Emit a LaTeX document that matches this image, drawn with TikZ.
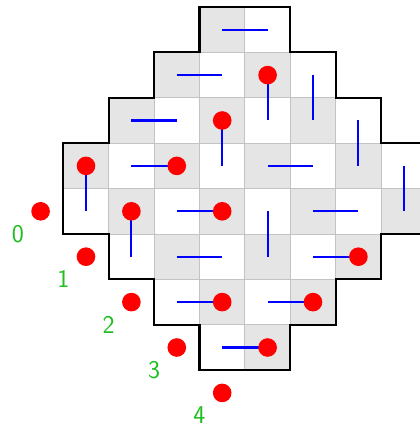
\documentclass[tikz,border=0pt]{standalone}
\definecolor{cellgray}{RGB}{229,229,229}
\definecolor{gridgray}{RGB}{195,195,195}
\definecolor{lblgreen}{RGB}{30,190,30}
\begin{document}
\begin{tikzpicture}[x=1cm,y=1cm,
  gridline/.style={draw=gridgray, line width=0.6pt},
  outline/.style={draw=black, line width=1.3pt, line join=miter},
  domino/.style={draw=blue, line width=1.3pt},
  dot/.style={circle, fill=red, inner sep=0pt, minimum size=0.41cm},
  lbl/.style={text=lblgreen, font=\sffamily\fontsize{16}{16}\selectfont, inner sep=0pt}]
\useasboundingbox (-1.394,0.154) rectangle (7.835,-9.229);
% cells
\foreach \j in {0,...,7}{
  \pgfmathtruncatemacro{\n}{\j<4 ? \j+1 : 8-\j}
  \pgfmathtruncatemacro{\a}{4-\n}
  \pgfmathtruncatemacro{\b}{3+\n}
  \foreach \i in {\a,...,\b}{
    \pgfmathtruncatemacro{\p}{mod(\i+\j,2)}
    \ifnum\p=1 \fill[cellgray] (\i,-\j) rectangle ++(1,-1);\fi
    \draw[gridline] (\i,-\j) rectangle ++(1,-1);
    \coordinate (c\i-\j) at (\i+0.5,-\j-0.5);
  }
}
% outline
\draw[outline] (3,0) -- (5,0) -- (5,-1) -- (6,-1) -- (6,-2) -- (7,-2) -- (7,-3) -- (8,-3)
  -- (8,-5) -- (7,-5) -- (7,-6) -- (6,-6) -- (6,-7) -- (5,-7) -- (5,-8) -- (3,-8)
  -- (3,-7) -- (2,-7) -- (2,-6) -- (1,-6) -- (1,-5) -- (0,-5) -- (0,-3) -- (1,-3)
  -- (1,-2) -- (2,-2) -- (2,-1) -- (3,-1) -- cycle;
% dominoes
\foreach \p/\q in {3-0/4-0, 2-1/3-1, 4-1/4-2, 5-1/5-2, 1-2/2-2, 3-2/3-3, 6-2/6-3,
  0-3/0-4, 1-3/2-3, 4-3/5-3, 7-3/7-4, 1-4/1-5, 2-4/3-4, 4-4/4-5, 5-4/6-4,
  2-5/3-5, 5-5/6-5, 2-6/3-6, 4-6/5-6, 3-7/4-7}
  \draw[domino] (c\p) -- (c\q);
% dots
\foreach \p in {4-1, 3-2, 0-3, 2-3, 1-4, 3-4, 6-5, 5-6, 3-6, 4-7}
  \node[dot] (d\p) at (c\p) {};
% outer dots and labels
\foreach \k in {0,...,4}{
  \node[dot] (o\k) at (\k-0.5,-4.5-\k) {};
  \node[lbl] (l\k) at (\k-1,-5-\k) {\k};
}
\end{tikzpicture}
\end{document}
